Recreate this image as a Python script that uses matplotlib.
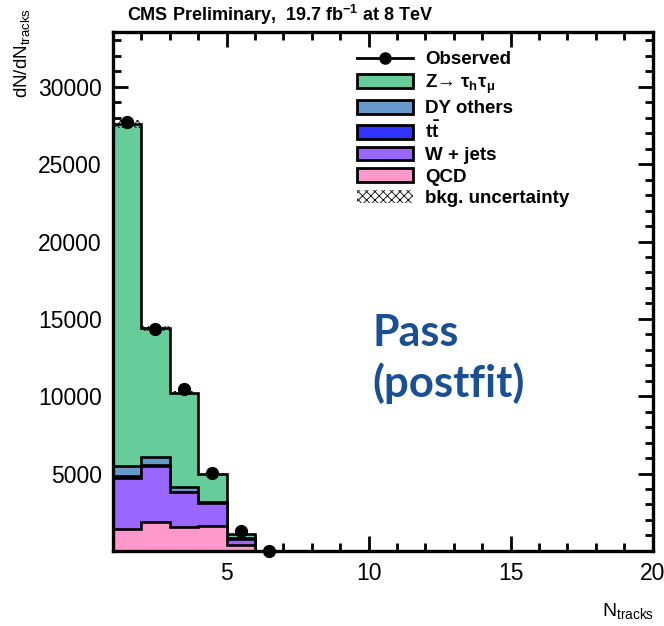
import numpy as np
import matplotlib
matplotlib.use("Agg")
import matplotlib.pyplot as plt
from matplotlib.patches import Patch
from matplotlib.lines import Line2D
from matplotlib.ticker import MultipleLocator

plt.rcParams['font.family'] = ['Liberation Sans', 'DejaVu Sans']
plt.rcParams['mathtext.fontset'] = 'custom'
plt.rcParams['mathtext.rm'] = 'Liberation Sans'
plt.rcParams['mathtext.it'] = 'Liberation Sans:italic'
plt.rcParams['mathtext.bf'] = 'Liberation Sans:bold'
plt.rcParams['hatch.linewidth'] = 0.6

# Bin edges in N_tracks (1..20, width 1)
edges = np.arange(1, 21)

# Per-process yields for each bin (stack bottom -> top)
qcd   = [1420, 1890, 1570, 1610, 390, 0, 0, 0, 0, 0, 0, 0, 0, 0, 0, 0, 0, 0, 0]
wjets = [3320, 3610, 2220, 1480, 380, 0, 0, 0, 0, 0, 0, 0, 0, 0, 0, 0, 0, 0, 0]
ttbar = [80, 70, 40, 20, 10, 0, 0, 0, 0, 0, 0, 0, 0, 0, 0, 0, 0, 0, 0]
dy_others = [680, 510, 290, 80, 60, 0, 0, 0, 0, 0, 0, 0, 0, 0, 0, 0, 0, 0, 0]
ztautau = [22090, 8310, 6090, 1780, 250, 0, 0, 0, 0, 0, 0, 0, 0, 0, 0, 0, 0, 0, 0]
bkg_unc = [250, 150, 120, 70, 30, 0, 0, 0, 0, 0, 0, 0, 0, 0, 0, 0, 0, 0, 0]

# Observed data (only bins that are drawn)
obs_x = [1.5, 2.5, 3.5, 4.5, 5.5, 6.5]
obs_y = [27710, 14330, 10450, 5020, 1300, 10]

colors = {'Z': '#66cc99', 'DY': '#6699cc', 'tt': '#3333ff', 'W': '#9966ff', 'QCD': '#ff99cc'}

fig = plt.figure(figsize=(6.64, 6.26), dpi=100)
ax = fig.add_axes([0.170, 0.120, 0.813, 0.829])

# cumulative stack
c1 = np.array(qcd)
c2 = c1 + np.array(wjets)
c3 = c2 + np.array(ttbar)
c4 = c3 + np.array(dy_others)
c5 = c4 + np.array(ztautau)

layers = [(c5, colors['Z']), (c4, colors['DY']), (c3, colors['tt']),
          (c2, colors['W']), (c1, colors['QCD'])]
for i, (vals, col) in enumerate(layers):
    ax.stairs(vals, edges, baseline=0, fill=True, facecolor=col,
              edgecolor='black', linewidth=1.9, zorder=2 + i)

unc = np.array(bkg_unc)
ax.stairs(c5 + unc, edges, baseline=c5 - unc, fill=True, facecolor='none',
          edgecolor='black', linewidth=0, hatch='xxxx', zorder=8)

ax.plot(obs_x, obs_y, 'o', color='black', markersize=8.5, zorder=10, clip_on=False)

ax.set_xlim(1, 20)
ax.set_ylim(0, 33550)
ax.set_xticks([5, 10, 15, 20])
ax.xaxis.set_minor_locator(MultipleLocator(1))
ax.set_yticks([5000, 10000, 15000, 20000, 25000, 30000])
ax.yaxis.set_minor_locator(MultipleLocator(1000))
ax.tick_params(which='both', direction='in', top=True, right=True, width=2,
               labelsize=16.5, pad=8)
ax.tick_params(which='major', length=11)
ax.tick_params(which='minor', length=6)
for s in ax.spines.values():
    s.set_linewidth(2.4)
    s.set_zorder(20)

fig.text(127 / 664, 1 - 15 / 626, r'CMS Preliminary,  19.7 fb$^{\mathbf{-1}}$ at 8 TeV',
         fontsize=13, fontweight='bold', ha='left', va='center')
fig.text(22 / 664, 1 - 8 / 626, r'dN/dN$_{\mathrm{tracks}}$', rotation=90,
         fontsize=13.5, ha='center', va='top')
fig.text(654 / 664, 1 - 611 / 626, r'N$_{\mathrm{tracks}}$',
         fontsize=14, ha='right', va='center')

blue = '#1a4f94'
fig.text(372 / 664, 1 - 346 / 626, 'Pass', color=blue, fontsize=31,
         fontweight='bold', family=['Lato', 'DejaVu Sans'], ha='left', va='baseline')
fig.text(372 / 664, 1 - 397 / 626, '(postfit)', color=blue, fontsize=31.5,
         fontweight='bold', family=['Lato', 'DejaVu Sans'], ha='left', va='baseline')

handles = [
    Line2D([], [], color='black', marker='o', markersize=8, linewidth=2),
    Patch(facecolor=colors['Z'], edgecolor='black', linewidth=2),
    Patch(facecolor=colors['DY'], edgecolor='black', linewidth=2),
    Patch(facecolor=colors['tt'], edgecolor='black', linewidth=2),
    Patch(facecolor=colors['W'], edgecolor='black', linewidth=2),
    Patch(facecolor=colors['QCD'], edgecolor='black', linewidth=2),
    Patch(facecolor='white', edgecolor='black', linewidth=0, hatch='xxxx'),
]
labels = ['Observed', r'Z→ $\mathregular{\tau_{h}\tau_{\mu}}$', 'DY others',
          r'$\mathbf{t\bar{t}}$', 'W + jets', 'QCD', 'bkg. uncertainty']
leg = fig.legend(handles, labels, loc='upper left',
                 bbox_to_anchor=(357 / 664, 1 - 51 / 626), frameon=False,
                 prop={'weight': 'bold', 'size': 13.5}, handlelength=3.0,
                 handleheight=0.75, handletextpad=0.64, labelspacing=0.22,
                 borderpad=0, borderaxespad=0)

fig.savefig('out.png', dpi=100)
